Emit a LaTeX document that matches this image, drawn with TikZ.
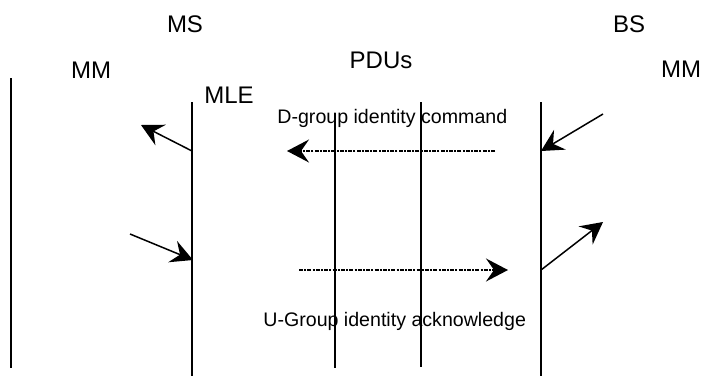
\documentclass[tikz,border=0pt]{standalone}
\usepackage{fontspec}
\setmainfont{Liberation Sans}
\usetikzlibrary{arrows.meta}

\tikzset{
    label big/.style={font=\fontsize{12}{14}\selectfont, anchor=base, inner sep=0pt},
    label small/.style={font=\fontsize{9.8}{12}\selectfont, anchor=base west, inner sep=0pt},
    lifeline/.style={line width=1pt},
    signal/.style={line width=0.75pt, -{Stealth[length=11pt, width=11.5pt, inset=4pt]}},
    pdu/.style={signal, line width=0.9pt, dash pattern=on 2pt off 0.6pt on 1pt off 0.6pt},
}

\begin{document}
\begin{tikzpicture}[x=0.5pt, y=-0.5pt]
    \useasboundingbox (0,0) rectangle (701,376);

    % Titles
    \node[label big] (ms) at (185, 32) {MS};
    \node[label big] (bs) at (629, 32) {BS};
    \node[label big] (pdus) at (381, 68) {PDUs};
    \node[label big] (mmleft) at (91, 78) {MM};
    \node[label big] (mmright) at (681, 77) {MM};
    \node[label big, anchor=base west] (mle) at (204, 103) {MLE};

    % Lifelines
    \coordinate (mmltop) at (11, 78);   \coordinate (mmlbot) at (11, 368);
    \coordinate (mletop) at (192, 102); \coordinate (mlebot) at (192, 376);
    \coordinate (pdutop) at (335, 113); \coordinate (pdubot) at (335, 368);
    \coordinate (pdbtop) at (421, 102); \coordinate (pdbbot) at (421, 367);
    \coordinate (bstop) at (541, 102);  \coordinate (bsbot) at (541, 376);
    \draw[lifeline] (mmltop) -- (mmlbot);
    \draw[lifeline] (mletop) -- (mlebot);
    \draw[lifeline] (pdutop) -- (pdubot);
    \draw[lifeline] (pdbtop) -- (pdbbot);
    \draw[lifeline] (bstop) -- (bsbot);

    % D-group identity command
    \node[label small] (dcmd) at (277, 123) {D-group identity command};
    \coordinate (bsin) at (603, 114);   \coordinate (bsout) at (541, 151);
    \coordinate (dstart) at (495, 151); \coordinate (dend) at (287, 151);
    \coordinate (mlein) at (192, 151);  \coordinate (mmin) at (141, 125);
    \draw[signal] (bsin) -- (bsout);
    \draw[pdu] (dstart) -- (dend);
    \draw[signal] (mlein) -- (mmin);

    % U-Group identity acknowledge
    \node[label small] (uack) at (263, 326) {U-Group identity acknowledge};
    \coordinate (mmout) at (130, 234);  \coordinate (mleend) at (193, 260);
    \coordinate (ustart) at (299, 270); \coordinate (uend) at (508, 270);
    \coordinate (bsup) at (541, 270);   \coordinate (mmup) at (603, 222);
    \draw[signal] (mmout) -- (mleend);
    \draw[pdu] (ustart) -- (uend);
    \draw[signal] (bsup) -- (mmup);

\end{tikzpicture}
\end{document}
